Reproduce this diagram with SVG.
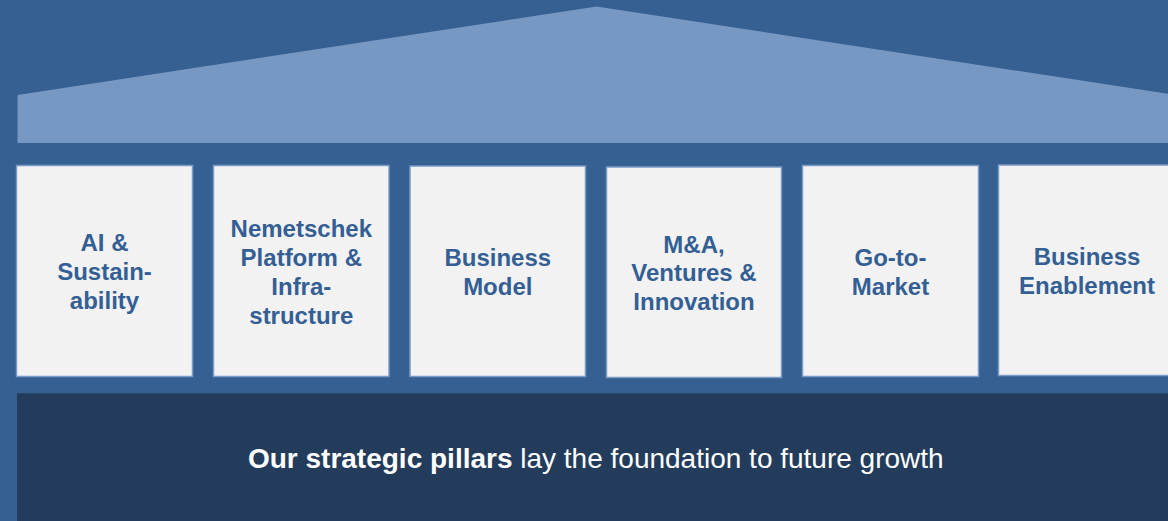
<svg xmlns="http://www.w3.org/2000/svg" width="1168" height="521" viewBox="0 0 1168 521">
<style>
.pillar rect{fill:#f2f2f2;stroke:#7a9bc6;stroke-width:1.5}
.pillar text{font-family:"Liberation Sans",Arial,sans-serif;font-weight:bold;font-size:24px;fill:#345f94;text-anchor:middle}
.base{font-family:"Liberation Sans",Arial,sans-serif;font-size:28px;fill:#ffffff;text-anchor:middle}
</style>
<rect id="background" x="0" y="0" width="1168" height="521" fill="#365f92"/>
<g id="roof">
<polygon points="17.5,95 596.5,6.5 1175.5,95 1175.5,143 17.5,143" fill="#7698c3"/>
</g>
<g id="pillar-1" class="pillar">
<rect x="16.5" y="165.5" width="176" height="211"/>
<text x="104.5" y="251.2">AI &amp;</text>
<text x="104.5" y="280">Sustain-</text>
<text x="104.5" y="308.8">ability</text>
</g>
<g id="pillar-2" class="pillar">
<rect x="213.5" y="165.5" width="175.5" height="211"/>
<text x="301.3" y="237.3">Nemetschek</text>
<text x="301.3" y="266.4">Platform &amp;</text>
<text x="301.3" y="295.2">Infra-</text>
<text x="301.3" y="324">structure</text>
</g>
<g id="pillar-3" class="pillar">
<rect x="410" y="166" width="175.5" height="210.5"/>
<text x="497.8" y="266">Business</text>
<text x="497.8" y="295">Model</text>
</g>
<g id="pillar-4" class="pillar">
<rect x="606.5" y="167" width="175" height="210.5"/>
<text x="694" y="252.7">M&amp;A,</text>
<text x="694" y="281.2">Ventures &amp;</text>
<text x="694" y="310">Innovation</text>
</g>
<g id="pillar-5" class="pillar">
<rect x="802.5" y="165.5" width="176" height="211"/>
<text x="890.5" y="266">Go-to-</text>
<text x="890.5" y="294.5">Market</text>
</g>
<g id="pillar-6" class="pillar">
<rect x="998.5" y="165" width="185" height="210.5"/>
<text x="1087" y="265">Business</text>
<text x="1087" y="294">Enablement</text>
</g>
<g id="foundation">
<rect x="17" y="393.3" width="1160" height="130" fill="#243c5c"/>
<text class="base" x="595.8" y="468"><tspan font-weight="bold">Our strategic pillars</tspan> lay the foundation to future growth</text>
</g>
<g id="connectors"/>
</svg>
